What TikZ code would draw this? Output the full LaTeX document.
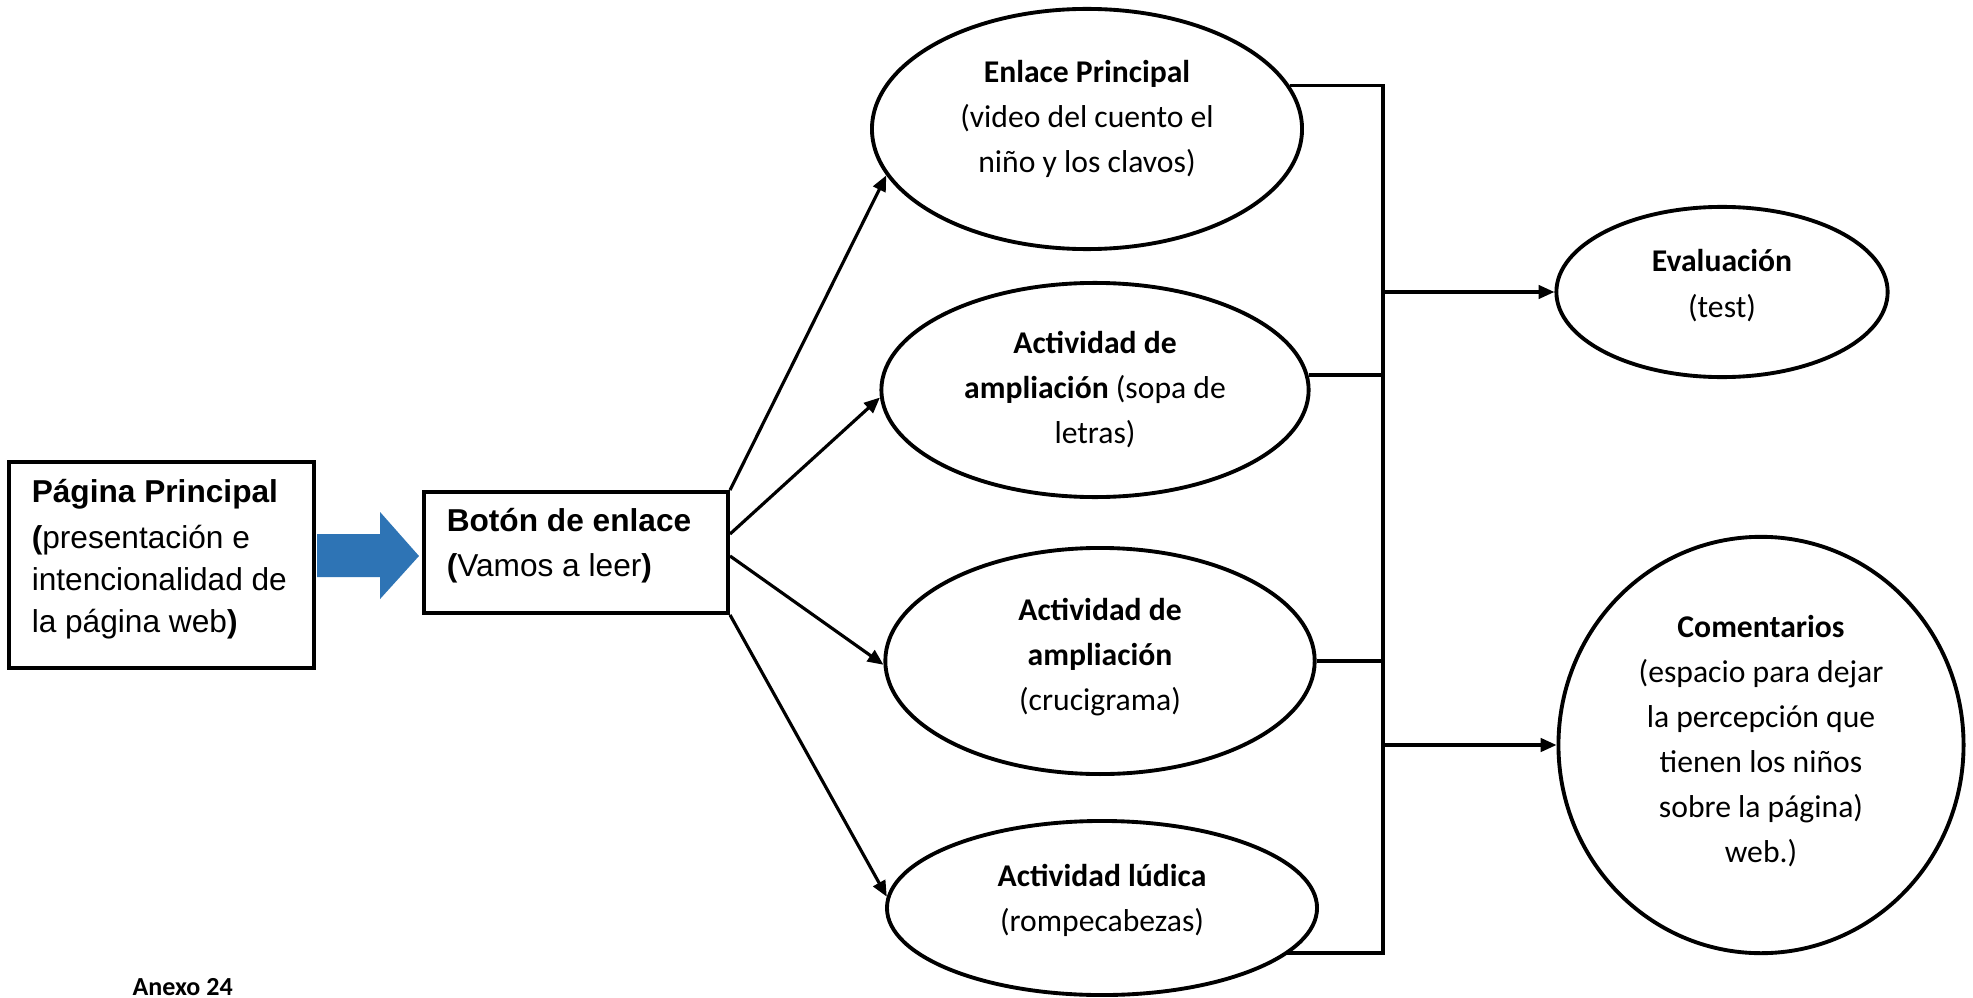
\documentclass[tikz,border=0pt]{standalone}
\usepackage{fontspec}
\setmainfont{Carlito}
\newfontfamily\arifont{Liberation Sans}
\usetikzlibrary{shapes.geometric,arrows.meta,calc}
\definecolor{arrowblue}{RGB}{46,116,181}
% ellipse text: lift, lines
\newcommand\etxt[2]{\raisebox{#1}[0pt][0pt]{\makebox[0pt]{\fontsize{9}{12.8}\selectfont\begin{tabular}[c]{@{}c@{}}#2\end{tabular}}}}
% box text: lift, width, left pad, lines
\newcommand\btxt[4]{\raisebox{#1}[0pt][0pt]{\makebox[#2][l]{\hspace*{#3}\arifont\fontsize{9}{11.95}\selectfont\begin{tabular}[c]{@{}l@{}}#4\end{tabular}}}}
\tikzset{
  boxnode/.style={draw, rectangle, line width=1.1pt, inner sep=0pt},
  ellnode/.style={draw, ellipse, line width=1.1pt, inner sep=0pt},
  conn/.style={line width=0.9pt},
  arr/.style={line width=0.9pt, -{Triangle[length=4.5pt,width=3.8pt]}},
}
\begin{document}
\begin{tikzpicture}[x=0.01cm,y=-0.01cm]
\fill[white] (0,0) rectangle (1973,997);
\useasboundingbox (0,0) rectangle (1973,997);

% boxes
\node[boxnode, minimum width=86.7pt, minimum height=58.7pt] (pag) at (161.7,564.9)
  {\btxt{-0.6pt}{86.7pt}{6.4pt}{\bfseries Página Principal\\[0.9pt] \textbf{(}presentación e\\ intencionalidad de\\ la página web\textbf{)}}};
\node[boxnode, minimum width=86.5pt, minimum height=34.4pt] (bot) at (576,552.5)
  {\btxt{-0.25pt}{86.5pt}{6.5pt}{\bfseries Botón de enlace\\[0.9pt] \textbf{(}Vamos a leer\textbf{)}}};

% ellipses
\node[ellnode, minimum width=122.3pt, minimum height=68.3pt] (e1) at (1087,129)
  {\etxt{0.6pt}{\bfseries Enlace Principal\\ (video del cuento el\\ niño y los clavos)}};
\node[ellnode, minimum width=121.5pt, minimum height=60.9pt] (e2) at (1095,390)
  {\etxt{-2.1pt}{\bfseries Actividad de\\ \textbf{ampliación} (sopa de\\ letras)}};
\node[ellnode, minimum width=122.1pt, minimum height=64.3pt] (e3) at (1100,661)
  {\etxt{-1.1pt}{\bfseries Actividad de\\ \bfseries ampliación\\ (crucigrama)}};
\node[ellnode, minimum width=122.3pt, minimum height=49.5pt] (e4) at (1102,908)
  {\etxt{0pt}{\bfseries Actividad lúdica\\ (rompecabezas)}};
\node[ellnode, minimum width=94.2pt, minimum height=48.4pt] (ev) at (1722,292)
  {\etxt{-0.4pt}{\bfseries Evaluación\\ (test)}};
\node[ellnode, minimum width=115.2pt, minimum height=118.4pt] (com) at (1761,745)
  {\etxt{-1.1pt}{\bfseries Comentarios\\ (espacio para dejar\\ la percepción que\\ tienen los niños\\ sobre la página)\\ web.)}};

% caption
\node[anchor=base west, inner sep=0pt] (anx) at (132,995)
  {\bfseries\fontsize{7.4}{9}\selectfont Anexo 24};

% blue block arrow
\fill[arrowblue] ($(pag.east)+(1,-30.9)$) -- ($(pag.east)+(64,-30.9)$) -- ($(pag.east)+(64,-52.9)$)
  -- ($(bot.west)+(-3,3.5)$) -- ($(pag.east)+(64,34.1)$) -- ($(pag.east)+(64,12.1)$)
  -- ($(pag.east)+(1,12.1)$) -- cycle;

% arrows from button
\draw[arr] (bot.north east) -- (e1.193);
\draw[arr] ($(bot.east)+(0,-18.5)$) -- (e2.182);
\draw[arr] ($(bot.east)+(0,3.5)$) -- (e3.181);
\draw[arr] (bot.south east) -- (e4.177);

% bus
\coordinate (bb) at (1383,953);
\draw[conn] (e1.12) -| (bb) -- (e4.346 |- bb);
\draw[conn] (e2.4) -- (e2.4 -| bb);
\draw[conn] (e3.east) -- (e3.east -| bb);
\draw[arr] (ev.west -| bb) -- (ev.west);
\draw[arr] (com.west -| bb) -- (com.west);
\end{tikzpicture}
\end{document}
